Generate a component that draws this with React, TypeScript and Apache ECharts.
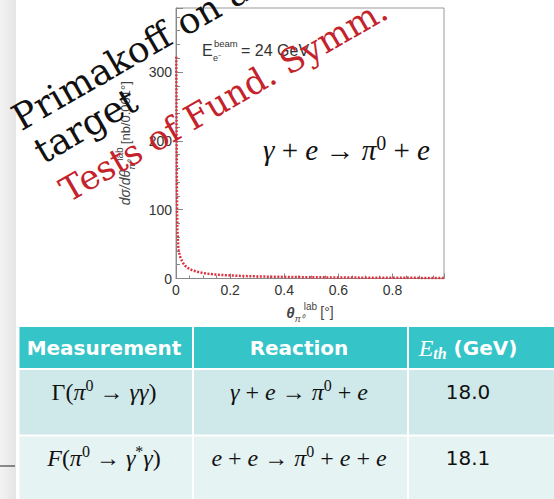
import React, { useEffect, useRef } from "react";
import * as echarts from "echarts";

// ---- chart data ----
const thetaLab = [0.001, 0.002, 0.003, 0.004, 0.005, 0.0085, 0.01, 0.015, 0.02, 0.027, 0.035, 0.045, 0.06, 0.077, 0.1, 0.126, 0.17, 0.224, 0.28, 0.348, 0.42, 0.5, 0.6, 0.7, 0.8, 0.9, 0.99];
const dSigma = [322, 230, 150, 100, 72, 46, 40, 32, 27, 22, 18, 15, 12, 10, 8, 6.5, 5, 4, 3.2, 2.6, 2.2, 1.8, 1.5, 1.2, 1.0, 0.9, 0.8];
const xTickLabels = ["0", "0.2", "0.4", "0.6", "0.8"];
const yTickLabels = ["0", "100", "200", "300"];
const xMax = 0.99;
const yMax = 393;

// ---- table data ----
const headers = ["Measurement", "Reaction", "E_th (GeV)"];
const measurementsRich = [
  "{r|Γ(}{i|π}{s|0}{r| → }{i|γγ}{r|)}",
  "{i|F}{r|(}{i|π}{s|0}{r| → }{i|γ}{s|*}{i|γ}{r|)}",
];
const reactionsRich = [
  "{i|γ}{r| + }{i|e}{r| → }{i|π}{s|0}{r| + }{i|e}",
  "{i|e}{r| + }{i|e}{r| → }{i|π}{s|0}{r| + }{i|e}{r| + }{i|e}",
];
const thresholds = ["18.0", "18.1"];

// ---- overlay texts ----
const overlayBlack = ["Primakoff on a", "target"];
const overlayRed = "Tests of Fund. Symm.";

const mathRich = (size: number) => ({
  r: { fontFamily: "Liberation Serif", fontSize: size, fill: "#111", lineHeight: size + 6 },
  i: { fontFamily: "Liberation Serif", fontStyle: "italic", fontSize: size, fill: "#111", lineHeight: size + 6 },
  s: { fontFamily: "Liberation Serif", fontSize: Math.round(size * 0.68), fill: "#111", verticalAlign: "top", lineHeight: size + 6 },
});

export default function App() {
  const ref = useRef<HTMLDivElement>(null);
  useEffect(() => {
    if (!ref.current) return;
    const chart = echarts.init(ref.current, undefined, { renderer: "svg" });
    const tickColor = "#888";
    const rot = Math.PI / 6;
    const overlayStarts = [[21, 131], [43, 164]];
    const redStart = [68, 202];

    const colX = [19.5, 194, 409, 554];
    const rowY = [327, 370, 436.5, 499];
    const rowFill = ["#35c4c7", "#cfe9ea", "#e5f3f3"];
    const colCenters = [104, 299, 468];

    const graphic: any[] = [];
    graphic.push({
      type: "rect", silent: true, z: -10,
      shape: { x: 0, y: 0, width: 16, height: 499 },
      style: { fill: new echarts.graphic.LinearGradient(0, 0, 1, 0, [{ offset: 0, color: "#f3f3f3" }, { offset: 1, color: "#e4e4e4" }]) },
    });
    graphic.push({ type: "line", silent: true, shape: { x1: 0, y1: 466, x2: 15, y2: 466 }, style: { stroke: "#222", lineWidth: 1 } });
    // table cells
    for (let r = 0; r < 3; r++) {
      for (let c = 0; c < 3; c++) {
        const x0 = colX[c], x1 = c < 2 ? colX[c + 1] - 2 : colX[3];
        const y0 = rowY[r], y1 = r < 2 ? rowY[r + 1] - 2 : rowY[3];
        graphic.push({ type: "rect", silent: true, shape: { x: x0, y: y0, width: x1 - x0, height: y1 - y0 }, style: { fill: rowFill[r] } });
      }
    }
    const headY = 347.5;
    graphic.push({ type: "text", x: colCenters[0], y: headY, style: { text: headers[0], fill: "#fff", fontFamily: "DejaVu Sans", fontWeight: "bold", fontSize: 20, align: "center", verticalAlign: "middle" } });
    graphic.push({ type: "text", x: colCenters[1], y: headY, style: { text: headers[1], fill: "#fff", fontFamily: "DejaVu Sans", fontWeight: "bold", fontSize: 20, align: "center", verticalAlign: "middle" } });
    graphic.push({
      type: "text", x: colCenters[2], y: headY,
      style: {
        text: "{e|E}{t|th}{g| (GeV)}", align: "center", verticalAlign: "middle",
        rich: {
          e: { fontFamily: "Liberation Serif", fontStyle: "italic", fontSize: 24, fill: "#fff", lineHeight: 28 },
          t: { fontFamily: "Liberation Serif", fontStyle: "italic", fontWeight: "bold", fontSize: 16, fill: "#fff", verticalAlign: "bottom", lineHeight: 28 },
          g: { fontFamily: "DejaVu Sans", fontWeight: "bold", fontSize: 20, fill: "#fff", lineHeight: 28 },
        },
      },
    });
    const rowTextY = [392, 458];
    for (let r = 0; r < 2; r++) {
      graphic.push({ type: "text", x: colCenters[0], y: rowTextY[r], style: { text: measurementsRich[r], align: "center", verticalAlign: "middle", rich: mathRich(24) } });
      graphic.push({ type: "text", x: colCenters[1], y: rowTextY[r], style: { text: reactionsRich[r], align: "center", verticalAlign: "middle", rich: mathRich(24) } });
      graphic.push({ type: "text", x: colCenters[2], y: rowTextY[r], style: { text: thresholds[r], fill: "#111", fontFamily: "DejaVu Sans", fontSize: 20, align: "center", verticalAlign: "middle" } });
    }
    // plot annotations
    graphic.push({ type: "text", x: 202, y: 50, style: { text: "E", fill: "#333", fontFamily: "Liberation Sans", fontSize: 16, verticalAlign: "middle" } });
    graphic.push({ type: "text", x: 214, y: 43, style: { text: "beam", fill: "#333", fontFamily: "Liberation Sans", fontSize: 9.5, verticalAlign: "middle" } });
    graphic.push({ type: "text", x: 213, y: 58, style: { text: "e⁻", fill: "#333", fontFamily: "Liberation Sans", fontSize: 9, verticalAlign: "middle" } });
    graphic.push({ type: "text", x: 241, y: 50, style: { text: "= 24 GeV", fill: "#333", fontFamily: "Liberation Sans", fontSize: 16, verticalAlign: "middle" } });
    graphic.push({ type: "text", x: 263, y: 150, style: { text: reactionsRich[0], align: "left", verticalAlign: "middle", rich: mathRich(29) } });
    // overlays
    overlayBlack.forEach((t, k) => {
      graphic.push({
        type: "text", z: 100, x: overlayStarts[k][0], y: overlayStarts[k][1], rotation: rot,
        style: { text: t, x: 0, y: -12, fill: "#111", fontFamily: "DejaVu Serif", fontSize: 36, align: "left", verticalAlign: "middle" },
      });
    });
    graphic.push({
      type: "text", z: 100, x: redStart[0], y: redStart[1], rotation: rot,
      style: { text: overlayRed, x: 0, y: -11, fill: "#c4232b", fontFamily: "DejaVu Serif", fontSize: 34, align: "left", verticalAlign: "middle" },
    });

    const labelStyle = { fontFamily: "Liberation Sans", fontSize: 14, color: "#333" };
    chart.setOption({
      animation: false,
      backgroundColor: "#fff",
      grid: { left: 176, top: 8, right: 110, bottom: 220.5, show: true, borderColor: "#999", borderWidth: 1 },
      xAxis: {
        type: "value", min: 0, max: xMax, interval: 0.2,
        axisLine: { show: true, onZero: false, lineStyle: { color: tickColor } },
        axisTick: { show: true, inside: true, length: 5, lineStyle: { color: tickColor } },
        minorTick: { show: true, splitNumber: 4, length: 3, lineStyle: { color: tickColor } },
        splitLine: { show: false },
        axisLabel: { ...labelStyle, margin: 4, showMaxLabel: false, formatter: (v: number) => xTickLabels[Math.round(v / 0.2)] ?? "" },
        name: "{t|θ}{s|π⁰}{u|lab} {n|[°]}",
        nameLocation: "middle", nameGap: 16,
        nameTextStyle: {
          rich: {
            t: { fontFamily: "Liberation Sans", fontStyle: "italic", fontWeight: "bold", fontSize: 15, color: "#444", lineHeight: 22 },
            s: { fontFamily: "Liberation Sans", fontStyle: "italic", fontSize: 9, color: "#444", verticalAlign: "bottom", lineHeight: 22 },
            u: { fontFamily: "Liberation Sans", fontSize: 10, color: "#444", verticalAlign: "top", lineHeight: 22 },
            n: { fontFamily: "Liberation Sans", fontSize: 14, color: "#444", lineHeight: 22 },
          },
        },
      },
      yAxis: {
        type: "value", min: 0, max: yMax, interval: 100,
        axisLine: { show: true, lineStyle: { color: tickColor } },
        axisTick: { show: true, inside: true, length: 7, lineStyle: { color: tickColor } },
        minorTick: { show: true, splitNumber: 5, length: 4, lineStyle: { color: tickColor } },
        splitLine: { show: false },
        axisLabel: { ...labelStyle, margin: 4, showMaxLabel: false, formatter: (v: number) => yTickLabels[Math.round(v / 100)] ?? "" },
        name: "{i|dσ/dθ}{s|π⁰}{u|lab} {n|[nb/0.001°]}",
        nameLocation: "middle", nameGap: 40, nameRotate: 90,
        nameTextStyle: {
          rich: {
            i: { fontFamily: "Liberation Sans", fontStyle: "italic", fontSize: 14, color: "#444", lineHeight: 22 },
            s: { fontFamily: "Liberation Sans", fontStyle: "italic", fontSize: 9, color: "#444", verticalAlign: "bottom", lineHeight: 22 },
            u: { fontFamily: "Liberation Sans", fontSize: 10, color: "#444", verticalAlign: "top", lineHeight: 22 },
            n: { fontFamily: "Liberation Sans", fontSize: 13, color: "#444", lineHeight: 22 },
          },
        },
      },
      series: [
        {
          type: "line",
          data: thetaLab.map((t, k) => [t, dSigma[k]]),
          showSymbol: false,
          smooth: false,
          lineStyle: { color: "#e0323e", width: 2.5, type: [2, 1.5] },
          z: 3,
        },
      ],
      graphic,
    });
    return () => chart.dispose();
  }, []);
  return <div ref={ref} style={{ position: "absolute", left: 0, top: 0, width: 554, height: 499 }} />;
}
